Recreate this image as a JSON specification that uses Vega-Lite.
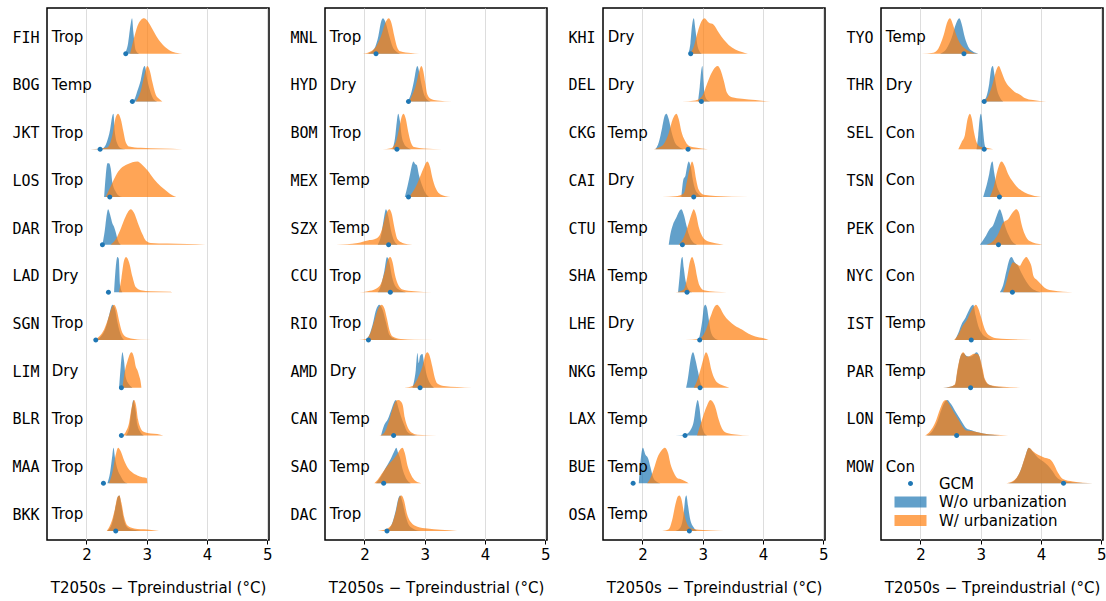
{
"$schema": "https://vega.github.io/schema/vega-lite/v6.json",
"padding": {"left": 11, "top": 7, "right": 2, "bottom": 2},
"config": {
 "font": "DejaVu Sans",
 "view": {"stroke": "black", "strokeWidth": 1.5},
 "axisX": {"labelFontSize": 15, "titleFontSize": 15, "titleFontWeight": "normal", "tickSize": 4, "tickColor": "black", "labelColor": "black", "titleColor": "black", "domain": false, "grid": true, "gridColor": "#dddddd", "labelPadding": 3, "titlePadding": 18, "labelFlush": false, "labelOverlap": false},
 "axisY": {"labelFont": "DejaVu Sans Mono", "labelFontSize": 15, "ticks": false, "domain": false, "grid": false, "labelPadding": 8, "labelColor": "black", "labelOverlap": false},
 "legend": {"orient": "none", "legendX": 856, "legendY": 468, "labelFontSize": 15, "labelColor": "black", "symbolSize": 196, "symbolStrokeWidth": 0, "labelOffset": 21, "rowPadding": 2.5, "padding": 0}
},
"datasets": {
 "cities": [
  {"c":"FIH","p":1,"r":0,"k":"Trop","g":2.652},{"c":"BOG","p":1,"r":1,"k":"Temp","g":2.762},{"c":"JKT","p":1,"r":2,"k":"Trop","g":2.227},{"c":"LOS","p":1,"r":3,"k":"Trop","g":2.387},{"c":"DAR","p":1,"r":4,"k":"Trop","g":2.265},{"c":"LAD","p":1,"r":5,"k":"Dry","g":2.365},{"c":"SGN","p":1,"r":6,"k":"Trop","g":2.155},{"c":"LIM","p":1,"r":7,"k":"Dry","g":2.580},{"c":"BLR","p":1,"r":8,"k":"Trop","g":2.580},{"c":"MAA","p":1,"r":9,"k":"Trop","g":2.282},{"c":"BKK","p":1,"r":10,"k":"Trop","g":2.486},
  {"c":"MNL","p":2,"r":0,"k":"Trop","g":2.192},{"c":"HYD","p":2,"r":1,"k":"Dry","g":2.731},{"c":"BOM","p":2,"r":2,"k":"Trop","g":2.539},{"c":"MEX","p":2,"r":3,"k":"Temp","g":2.731},{"c":"SZX","p":2,"r":4,"k":"Temp","g":2.401},{"c":"CCU","p":2,"r":5,"k":"Trop","g":2.429},{"c":"RIO","p":2,"r":6,"k":"Trop","g":2.066},{"c":"AMD","p":2,"r":7,"k":"Dry","g":2.923},{"c":"CAN","p":2,"r":8,"k":"Temp","g":2.484},{"c":"SAO","p":2,"r":9,"k":"Temp","g":2.319},{"c":"DAC","p":2,"r":10,"k":"Trop","g":2.374},
  {"c":"KHI","p":3,"r":0,"k":"Dry","g":2.801},{"c":"DEL","p":3,"r":1,"k":"Dry","g":2.978},{"c":"CKG","p":3,"r":2,"k":"Temp","g":2.757},{"c":"CAI","p":3,"r":3,"k":"Dry","g":2.851},{"c":"CTU","p":3,"r":4,"k":"Temp","g":2.663},{"c":"SHA","p":3,"r":5,"k":"Temp","g":2.740},{"c":"LHE","p":3,"r":6,"k":"Dry","g":2.950},{"c":"NKG","p":3,"r":7,"k":"Temp","g":2.956},{"c":"LAX","p":3,"r":8,"k":"Temp","g":2.707},{"c":"BUE","p":3,"r":9,"k":"Temp","g":1.845},{"c":"OSA","p":3,"r":10,"k":"Temp","g":2.779},
  {"c":"TYO","p":4,"r":0,"k":"Temp","g":2.722},{"c":"THR","p":4,"r":1,"k":"Dry","g":3.058},{"c":"SEL","p":4,"r":2,"k":"Con","g":3.058},{"c":"TSN","p":4,"r":3,"k":"Con","g":3.311},{"c":"PEK","p":4,"r":4,"k":"Con","g":3.295},{"c":"NYC","p":4,"r":5,"k":"Con","g":3.526},{"c":"IST","p":4,"r":6,"k":"Temp","g":2.843},{"c":"PAR","p":4,"r":7,"k":"Temp","g":2.832},{"c":"LON","p":4,"r":8,"k":"Temp","g":2.601},{"c":"MOW","p":4,"r":9,"k":"Con","g":4.375}
 ],
 "curves": [
  {"c":"FIH","s":"a","x":2.635,"d":0},{"c":"FIH","s":"a","x":2.691,"d":0.3},{"c":"FIH","s":"a","x":2.735,"d":0.85},{"c":"FIH","s":"a","x":2.757,"d":1},{"c":"FIH","s":"a","x":2.779,"d":0.6},{"c":"FIH","s":"a","x":2.818,"d":0.1},{"c":"FIH","s":"a","x":2.873,"d":0},
  {"c":"FIH","s":"b","x":2.724,"d":0},{"c":"FIH","s":"b","x":2.79,"d":0.45},{"c":"FIH","s":"b","x":2.845,"d":0.78},{"c":"FIH","s":"b","x":2.901,"d":0.95},{"c":"FIH","s":"b","x":2.956,"d":1},{"c":"FIH","s":"b","x":3.011,"d":0.93},{"c":"FIH","s":"b","x":3.094,"d":0.7},{"c":"FIH","s":"b","x":3.177,"d":0.45},{"c":"FIH","s":"b","x":3.287,"d":0.22},{"c":"FIH","s":"b","x":3.398,"d":0.08},{"c":"FIH","s":"b","x":3.508,"d":0.02},{"c":"FIH","s":"b","x":3.591,"d":0},
  {"c":"BOG","s":"a","x":2.707,"d":0},{"c":"BOG","s":"a","x":2.79,"d":0.05},{"c":"BOG","s":"a","x":2.845,"d":0.3},{"c":"BOG","s":"a","x":2.901,"d":0.6},{"c":"BOG","s":"a","x":2.945,"d":0.95},{"c":"BOG","s":"a","x":2.967,"d":1},{"c":"BOG","s":"a","x":3.011,"d":0.6},{"c":"BOG","s":"a","x":3.066,"d":0.25},{"c":"BOG","s":"a","x":3.122,"d":0.05},{"c":"BOG","s":"a","x":3.177,"d":0},
  {"c":"BOG","s":"b","x":2.818,"d":0},{"c":"BOG","s":"b","x":2.901,"d":0.3},{"c":"BOG","s":"b","x":2.956,"d":0.7},{"c":"BOG","s":"b","x":3.011,"d":1},{"c":"BOG","s":"b","x":3.055,"d":0.85},{"c":"BOG","s":"b","x":3.094,"d":0.55},{"c":"BOG","s":"b","x":3.149,"d":0.2},{"c":"BOG","s":"b","x":3.204,"d":0.08},{"c":"BOG","s":"b","x":3.26,"d":0},
  {"c":"JKT","s":"a","x":2.072,"d":0},{"c":"JKT","s":"a","x":2.265,"d":0.02},{"c":"JKT","s":"a","x":2.337,"d":0.2},{"c":"JKT","s":"a","x":2.392,"d":0.55},{"c":"JKT","s":"a","x":2.431,"d":0.95},{"c":"JKT","s":"a","x":2.448,"d":1},{"c":"JKT","s":"a","x":2.47,"d":0.5},{"c":"JKT","s":"a","x":2.514,"d":0.15},{"c":"JKT","s":"a","x":2.569,"d":0.03},{"c":"JKT","s":"a","x":2.652,"d":0},
  {"c":"JKT","s":"b","x":2.072,"d":0},{"c":"JKT","s":"b","x":2.348,"d":0.05},{"c":"JKT","s":"b","x":2.431,"d":0.4},{"c":"JKT","s":"b","x":2.486,"d":0.9},{"c":"JKT","s":"b","x":2.525,"d":1},{"c":"JKT","s":"b","x":2.569,"d":0.85},{"c":"JKT","s":"b","x":2.613,"d":0.5},{"c":"JKT","s":"b","x":2.652,"d":0.2},{"c":"JKT","s":"b","x":2.707,"d":0.08},{"c":"JKT","s":"b","x":2.901,"d":0.04},{"c":"JKT","s":"b","x":3.232,"d":0.02},{"c":"JKT","s":"b","x":3.591,"d":0},
  {"c":"LOS","s":"a","x":2.293,"d":0},{"c":"LOS","s":"a","x":2.32,"d":0.6},{"c":"LOS","s":"a","x":2.348,"d":0.95},{"c":"LOS","s":"a","x":2.376,"d":0.95},{"c":"LOS","s":"a","x":2.403,"d":0.8},{"c":"LOS","s":"a","x":2.431,"d":0.4},{"c":"LOS","s":"a","x":2.486,"d":0.15},{"c":"LOS","s":"a","x":2.541,"d":0.03},{"c":"LOS","s":"a","x":2.597,"d":0},
  {"c":"LOS","s":"b","x":2.32,"d":0},{"c":"LOS","s":"b","x":2.403,"d":0.3},{"c":"LOS","s":"b","x":2.486,"d":0.6},{"c":"LOS","s":"b","x":2.569,"d":0.8},{"c":"LOS","s":"b","x":2.68,"d":0.92},{"c":"LOS","s":"b","x":2.762,"d":0.98},{"c":"LOS","s":"b","x":2.845,"d":1},{"c":"LOS","s":"b","x":2.928,"d":0.9},{"c":"LOS","s":"b","x":3.011,"d":0.75},{"c":"LOS","s":"b","x":3.122,"d":0.5},{"c":"LOS","s":"b","x":3.232,"d":0.3},{"c":"LOS","s":"b","x":3.343,"d":0.15},{"c":"LOS","s":"b","x":3.425,"d":0.05},{"c":"LOS","s":"b","x":3.492,"d":0},
  {"c":"DAR","s":"a","x":2.265,"d":0},{"c":"DAR","s":"a","x":2.304,"d":0.4},{"c":"DAR","s":"a","x":2.337,"d":0.85},{"c":"DAR","s":"a","x":2.359,"d":1},{"c":"DAR","s":"a","x":2.392,"d":0.85},{"c":"DAR","s":"a","x":2.431,"d":0.6},{"c":"DAR","s":"a","x":2.459,"d":0.5},{"c":"DAR","s":"a","x":2.486,"d":0.35},{"c":"DAR","s":"a","x":2.525,"d":0.1},{"c":"DAR","s":"a","x":2.569,"d":0},
  {"c":"DAR","s":"b","x":2.403,"d":0},{"c":"DAR","s":"b","x":2.486,"d":0.15},{"c":"DAR","s":"b","x":2.569,"d":0.45},{"c":"DAR","s":"b","x":2.652,"d":0.8},{"c":"DAR","s":"b","x":2.735,"d":1},{"c":"DAR","s":"b","x":2.79,"d":0.9},{"c":"DAR","s":"b","x":2.856,"d":0.6},{"c":"DAR","s":"b","x":2.928,"d":0.3},{"c":"DAR","s":"b","x":2.983,"d":0.12},{"c":"DAR","s":"b","x":3.066,"d":0.05},{"c":"DAR","s":"b","x":3.343,"d":0.03},{"c":"DAR","s":"b","x":3.674,"d":0.02},{"c":"DAR","s":"b","x":3.978,"d":0},
  {"c":"LAD","s":"a","x":2.459,"d":0},{"c":"LAD","s":"a","x":2.486,"d":0.7},{"c":"LAD","s":"a","x":2.514,"d":1},{"c":"LAD","s":"a","x":2.536,"d":0.95},{"c":"LAD","s":"a","x":2.558,"d":0.2},{"c":"LAD","s":"a","x":2.597,"d":0},
  {"c":"LAD","s":"b","x":2.541,"d":0},{"c":"LAD","s":"b","x":2.58,"d":0.4},{"c":"LAD","s":"b","x":2.624,"d":0.9},{"c":"LAD","s":"b","x":2.657,"d":1},{"c":"LAD","s":"b","x":2.707,"d":0.85},{"c":"LAD","s":"b","x":2.762,"d":0.45},{"c":"LAD","s":"b","x":2.818,"d":0.15},{"c":"LAD","s":"b","x":2.901,"d":0.06},{"c":"LAD","s":"b","x":3.066,"d":0.03},{"c":"LAD","s":"b","x":3.398,"d":0.02},{"c":"LAD","s":"b","x":3.425,"d":0},
  {"c":"SGN","s":"a","x":2.155,"d":0},{"c":"SGN","s":"a","x":2.238,"d":0.1},{"c":"SGN","s":"a","x":2.32,"d":0.35},{"c":"SGN","s":"a","x":2.376,"d":0.7},{"c":"SGN","s":"a","x":2.431,"d":1},{"c":"SGN","s":"a","x":2.47,"d":0.9},{"c":"SGN","s":"a","x":2.514,"d":0.5},{"c":"SGN","s":"a","x":2.569,"d":0.15},{"c":"SGN","s":"a","x":2.624,"d":0},
  {"c":"SGN","s":"b","x":2.099,"d":0},{"c":"SGN","s":"b","x":2.21,"d":0.1},{"c":"SGN","s":"b","x":2.293,"d":0.3},{"c":"SGN","s":"b","x":2.359,"d":0.6},{"c":"SGN","s":"b","x":2.414,"d":0.9},{"c":"SGN","s":"b","x":2.459,"d":1},{"c":"SGN","s":"b","x":2.503,"d":0.85},{"c":"SGN","s":"b","x":2.547,"d":0.5},{"c":"SGN","s":"b","x":2.597,"d":0.2},{"c":"SGN","s":"b","x":2.68,"d":0.07},{"c":"SGN","s":"b","x":2.79,"d":0.03},{"c":"SGN","s":"b","x":2.901,"d":0.01},{"c":"SGN","s":"b","x":3.26,"d":0},
  {"c":"LIM","s":"a","x":2.541,"d":0},{"c":"LIM","s":"a","x":2.569,"d":0.6},{"c":"LIM","s":"a","x":2.597,"d":1},{"c":"LIM","s":"a","x":2.624,"d":0.75},{"c":"LIM","s":"a","x":2.652,"d":0.3},{"c":"LIM","s":"a","x":2.707,"d":0.1},{"c":"LIM","s":"a","x":2.762,"d":0},
  {"c":"LIM","s":"b","x":2.597,"d":0},{"c":"LIM","s":"b","x":2.635,"d":0.45},{"c":"LIM","s":"b","x":2.68,"d":0.75},{"c":"LIM","s":"b","x":2.746,"d":1},{"c":"LIM","s":"b","x":2.79,"d":0.85},{"c":"LIM","s":"b","x":2.818,"d":0.6},{"c":"LIM","s":"b","x":2.845,"d":0.5},{"c":"LIM","s":"b","x":2.873,"d":0.35},{"c":"LIM","s":"b","x":2.901,"d":0.15},{"c":"LIM","s":"b","x":2.912,"d":0},
  {"c":"BLR","s":"a","x":2.652,"d":0},{"c":"BLR","s":"a","x":2.707,"d":0.2},{"c":"BLR","s":"a","x":2.746,"d":0.7},{"c":"BLR","s":"a","x":2.779,"d":1},{"c":"BLR","s":"a","x":2.812,"d":0.75},{"c":"BLR","s":"a","x":2.845,"d":0.3},{"c":"BLR","s":"a","x":2.901,"d":0.08},{"c":"BLR","s":"a","x":2.956,"d":0},
  {"c":"BLR","s":"b","x":2.597,"d":0},{"c":"BLR","s":"b","x":2.652,"d":0.1},{"c":"BLR","s":"b","x":2.707,"d":0.35},{"c":"BLR","s":"b","x":2.751,"d":0.8},{"c":"BLR","s":"b","x":2.79,"d":1},{"c":"BLR","s":"b","x":2.823,"d":0.85},{"c":"BLR","s":"b","x":2.856,"d":0.45},{"c":"BLR","s":"b","x":2.901,"d":0.2},{"c":"BLR","s":"b","x":2.956,"d":0.1},{"c":"BLR","s":"b","x":3.066,"d":0.06},{"c":"BLR","s":"b","x":3.177,"d":0.04},{"c":"BLR","s":"b","x":3.276,"d":0},
  {"c":"MAA","s":"a","x":2.348,"d":0},{"c":"MAA","s":"a","x":2.392,"d":0.3},{"c":"MAA","s":"a","x":2.431,"d":0.8},{"c":"MAA","s":"a","x":2.448,"d":1},{"c":"MAA","s":"a","x":2.475,"d":0.7},{"c":"MAA","s":"a","x":2.514,"d":0.4},{"c":"MAA","s":"a","x":2.569,"d":0.2},{"c":"MAA","s":"a","x":2.624,"d":0.05},{"c":"MAA","s":"a","x":2.68,"d":0},
  {"c":"MAA","s":"b","x":2.376,"d":0},{"c":"MAA","s":"b","x":2.431,"d":0.3},{"c":"MAA","s":"b","x":2.486,"d":0.8},{"c":"MAA","s":"b","x":2.525,"d":1},{"c":"MAA","s":"b","x":2.569,"d":0.9},{"c":"MAA","s":"b","x":2.624,"d":0.65},{"c":"MAA","s":"b","x":2.68,"d":0.45},{"c":"MAA","s":"b","x":2.762,"d":0.3},{"c":"MAA","s":"b","x":2.845,"d":0.22},{"c":"MAA","s":"b","x":2.928,"d":0.17},{"c":"MAA","s":"b","x":3.0,"d":0.15},{"c":"MAA","s":"b","x":3.011,"d":0},
  {"c":"BKK","s":"a","x":2.348,"d":0},{"c":"BKK","s":"a","x":2.431,"d":0.25},{"c":"BKK","s":"a","x":2.486,"d":0.7},{"c":"BKK","s":"a","x":2.525,"d":0.98},{"c":"BKK","s":"a","x":2.547,"d":1},{"c":"BKK","s":"a","x":2.58,"d":0.7},{"c":"BKK","s":"a","x":2.624,"d":0.3},{"c":"BKK","s":"a","x":2.68,"d":0.1},{"c":"BKK","s":"a","x":2.79,"d":0.03},{"c":"BKK","s":"a","x":2.901,"d":0},
  {"c":"BKK","s":"b","x":2.337,"d":0},{"c":"BKK","s":"b","x":2.403,"d":0.2},{"c":"BKK","s":"b","x":2.47,"d":0.6},{"c":"BKK","s":"b","x":2.514,"d":0.95},{"c":"BKK","s":"b","x":2.547,"d":1},{"c":"BKK","s":"b","x":2.58,"d":0.8},{"c":"BKK","s":"b","x":2.624,"d":0.4},{"c":"BKK","s":"b","x":2.68,"d":0.15},{"c":"BKK","s":"b","x":2.79,"d":0.07},{"c":"BKK","s":"b","x":3.011,"d":0.04},{"c":"BKK","s":"b","x":3.204,"d":0},

  {"c":"MNL","s":"a","x":2.055,"d":0},{"c":"MNL","s":"a","x":2.165,"d":0.15},{"c":"MNL","s":"a","x":2.231,"d":0.5},{"c":"MNL","s":"a","x":2.275,"d":0.9},{"c":"MNL","s":"a","x":2.308,"d":1},{"c":"MNL","s":"a","x":2.357,"d":0.85},{"c":"MNL","s":"a","x":2.412,"d":0.5},{"c":"MNL","s":"a","x":2.467,"d":0.2},{"c":"MNL","s":"a","x":2.522,"d":0.07},{"c":"MNL","s":"a","x":2.604,"d":0},
  {"c":"MNL","s":"b","x":1.973,"d":0},{"c":"MNL","s":"b","x":2.082,"d":0.05},{"c":"MNL","s":"b","x":2.192,"d":0.2},{"c":"MNL","s":"b","x":2.275,"d":0.5},{"c":"MNL","s":"b","x":2.341,"d":0.85},{"c":"MNL","s":"b","x":2.401,"d":1},{"c":"MNL","s":"b","x":2.451,"d":0.85},{"c":"MNL","s":"b","x":2.495,"d":0.5},{"c":"MNL","s":"b","x":2.539,"d":0.2},{"c":"MNL","s":"b","x":2.593,"d":0.07},{"c":"MNL","s":"b","x":2.769,"d":0.02},{"c":"MNL","s":"b","x":2.907,"d":0},
  {"c":"HYD","s":"a","x":2.714,"d":0},{"c":"HYD","s":"a","x":2.769,"d":0.2},{"c":"HYD","s":"a","x":2.824,"d":0.6},{"c":"HYD","s":"a","x":2.863,"d":0.95},{"c":"HYD","s":"a","x":2.879,"d":1},{"c":"HYD","s":"a","x":2.907,"d":0.85},{"c":"HYD","s":"a","x":2.945,"d":0.5},{"c":"HYD","s":"a","x":2.989,"d":0.2},{"c":"HYD","s":"a","x":3.044,"d":0.05},{"c":"HYD","s":"a","x":3.099,"d":0},
  {"c":"HYD","s":"b","x":2.742,"d":0},{"c":"HYD","s":"b","x":2.797,"d":0.2},{"c":"HYD","s":"b","x":2.852,"d":0.45},{"c":"HYD","s":"b","x":2.907,"d":0.85},{"c":"HYD","s":"b","x":2.945,"d":1},{"c":"HYD","s":"b","x":2.978,"d":0.85},{"c":"HYD","s":"b","x":3.011,"d":0.5},{"c":"HYD","s":"b","x":3.044,"d":0.2},{"c":"HYD","s":"b","x":3.099,"d":0.08},{"c":"HYD","s":"b","x":3.209,"d":0.03},{"c":"HYD","s":"b","x":3.456,"d":0},
  {"c":"BOM","s":"a","x":2.467,"d":0},{"c":"BOM","s":"a","x":2.506,"d":0.3},{"c":"BOM","s":"a","x":2.539,"d":0.8},{"c":"BOM","s":"a","x":2.56,"d":1},{"c":"BOM","s":"a","x":2.588,"d":0.8},{"c":"BOM","s":"a","x":2.615,"d":0.4},{"c":"BOM","s":"a","x":2.659,"d":0.15},{"c":"BOM","s":"a","x":2.714,"d":0.05},{"c":"BOM","s":"a","x":2.769,"d":0},
  {"c":"BOM","s":"b","x":2.302,"d":0},{"c":"BOM","s":"b","x":2.44,"d":0.03},{"c":"BOM","s":"b","x":2.522,"d":0.2},{"c":"BOM","s":"b","x":2.577,"d":0.6},{"c":"BOM","s":"b","x":2.615,"d":0.9},{"c":"BOM","s":"b","x":2.648,"d":1},{"c":"BOM","s":"b","x":2.687,"d":0.85},{"c":"BOM","s":"b","x":2.725,"d":0.5},{"c":"BOM","s":"b","x":2.769,"d":0.2},{"c":"BOM","s":"b","x":2.824,"d":0.06},{"c":"BOM","s":"b","x":2.989,"d":0.02},{"c":"BOM","s":"b","x":3.291,"d":0},
  {"c":"MEX","s":"a","x":2.67,"d":0},{"c":"MEX","s":"a","x":2.714,"d":0.3},{"c":"MEX","s":"a","x":2.758,"d":0.65},{"c":"MEX","s":"a","x":2.797,"d":0.95},{"c":"MEX","s":"a","x":2.813,"d":1},{"c":"MEX","s":"a","x":2.841,"d":0.93},{"c":"MEX","s":"a","x":2.868,"d":0.9},{"c":"MEX","s":"a","x":2.907,"d":0.6},{"c":"MEX","s":"a","x":2.962,"d":0.3},{"c":"MEX","s":"a","x":3.017,"d":0.1},{"c":"MEX","s":"a","x":3.072,"d":0},
  {"c":"MEX","s":"b","x":2.742,"d":0},{"c":"MEX","s":"b","x":2.824,"d":0.2},{"c":"MEX","s":"b","x":2.907,"d":0.5},{"c":"MEX","s":"b","x":2.978,"d":0.8},{"c":"MEX","s":"b","x":3.044,"d":1},{"c":"MEX","s":"b","x":3.088,"d":0.85},{"c":"MEX","s":"b","x":3.126,"d":0.55},{"c":"MEX","s":"b","x":3.181,"d":0.25},{"c":"MEX","s":"b","x":3.264,"d":0.07},{"c":"MEX","s":"b","x":3.429,"d":0},
  {"c":"SZX","s":"a","x":2.22,"d":0},{"c":"SZX","s":"a","x":2.275,"d":0.25},{"c":"SZX","s":"a","x":2.319,"d":0.7},{"c":"SZX","s":"a","x":2.357,"d":1},{"c":"SZX","s":"a","x":2.396,"d":0.8},{"c":"SZX","s":"a","x":2.44,"d":0.4},{"c":"SZX","s":"a","x":2.495,"d":0.1},{"c":"SZX","s":"a","x":2.55,"d":0},
  {"c":"SZX","s":"b","x":1.533,"d":0},{"c":"SZX","s":"b","x":1.89,"d":0.05},{"c":"SZX","s":"b","x":2.055,"d":0.12},{"c":"SZX","s":"b","x":2.165,"d":0.15},{"c":"SZX","s":"b","x":2.247,"d":0.25},{"c":"SZX","s":"b","x":2.302,"d":0.5},{"c":"SZX","s":"b","x":2.357,"d":0.85},{"c":"SZX","s":"b","x":2.412,"d":1},{"c":"SZX","s":"b","x":2.456,"d":0.85},{"c":"SZX","s":"b","x":2.495,"d":0.5},{"c":"SZX","s":"b","x":2.55,"d":0.15},{"c":"SZX","s":"b","x":2.632,"d":0.05},{"c":"SZX","s":"b","x":2.797,"d":0},
  {"c":"CCU","s":"a","x":2.22,"d":0},{"c":"CCU","s":"a","x":2.275,"d":0.2},{"c":"CCU","s":"a","x":2.33,"d":0.6},{"c":"CCU","s":"a","x":2.374,"d":1},{"c":"CCU","s":"a","x":2.412,"d":0.85},{"c":"CCU","s":"a","x":2.456,"d":0.45},{"c":"CCU","s":"a","x":2.522,"d":0.15},{"c":"CCU","s":"a","x":2.604,"d":0.05},{"c":"CCU","s":"a","x":2.687,"d":0},
  {"c":"CCU","s":"b","x":1.918,"d":0},{"c":"CCU","s":"b","x":2.055,"d":0.03},{"c":"CCU","s":"b","x":2.192,"d":0.1},{"c":"CCU","s":"b","x":2.275,"d":0.25},{"c":"CCU","s":"b","x":2.341,"d":0.6},{"c":"CCU","s":"b","x":2.396,"d":0.95},{"c":"CCU","s":"b","x":2.429,"d":1},{"c":"CCU","s":"b","x":2.467,"d":0.85},{"c":"CCU","s":"b","x":2.506,"d":0.5},{"c":"CCU","s":"b","x":2.55,"d":0.25},{"c":"CCU","s":"b","x":2.632,"d":0.08},{"c":"CCU","s":"b","x":2.824,"d":0.03},{"c":"CCU","s":"b","x":3.126,"d":0},
  {"c":"RIO","s":"a","x":2.027,"d":0},{"c":"RIO","s":"a","x":2.082,"d":0.15},{"c":"RIO","s":"a","x":2.137,"d":0.45},{"c":"RIO","s":"a","x":2.192,"d":0.85},{"c":"RIO","s":"a","x":2.247,"d":1},{"c":"RIO","s":"a","x":2.302,"d":0.85},{"c":"RIO","s":"a","x":2.357,"d":0.5},{"c":"RIO","s":"a","x":2.412,"d":0.15},{"c":"RIO","s":"a","x":2.495,"d":0.04},{"c":"RIO","s":"a","x":2.604,"d":0},
  {"c":"RIO","s":"b","x":1.901,"d":0},{"c":"RIO","s":"b","x":2.027,"d":0.03},{"c":"RIO","s":"b","x":2.099,"d":0.2},{"c":"RIO","s":"b","x":2.165,"d":0.55},{"c":"RIO","s":"b","x":2.231,"d":0.9},{"c":"RIO","s":"b","x":2.286,"d":1},{"c":"RIO","s":"b","x":2.33,"d":0.9},{"c":"RIO","s":"b","x":2.374,"d":0.6},{"c":"RIO","s":"b","x":2.412,"d":0.3},{"c":"RIO","s":"b","x":2.467,"d":0.1},{"c":"RIO","s":"b","x":2.604,"d":0.03},{"c":"RIO","s":"b","x":2.824,"d":0.01},{"c":"RIO","s":"b","x":3.484,"d":0},
  {"c":"AMD","s":"a","x":2.797,"d":0},{"c":"AMD","s":"a","x":2.852,"d":0.5},{"c":"AMD","s":"a","x":2.879,"d":0.98},{"c":"AMD","s":"a","x":2.901,"d":0.7},{"c":"AMD","s":"a","x":2.923,"d":0.9},{"c":"AMD","s":"a","x":2.962,"d":0.95},{"c":"AMD","s":"a","x":2.989,"d":0.7},{"c":"AMD","s":"a","x":3.044,"d":0.3},{"c":"AMD","s":"a","x":3.099,"d":0.1},{"c":"AMD","s":"a","x":3.154,"d":0},
  {"c":"AMD","s":"b","x":2.659,"d":0},{"c":"AMD","s":"b","x":2.797,"d":0.05},{"c":"AMD","s":"b","x":2.879,"d":0.25},{"c":"AMD","s":"b","x":2.962,"d":0.6},{"c":"AMD","s":"b","x":3.017,"d":0.95},{"c":"AMD","s":"b","x":3.044,"d":1},{"c":"AMD","s":"b","x":3.083,"d":0.9},{"c":"AMD","s":"b","x":3.126,"d":0.6},{"c":"AMD","s":"b","x":3.165,"d":0.3},{"c":"AMD","s":"b","x":3.209,"d":0.12},{"c":"AMD","s":"b","x":3.319,"d":0.05},{"c":"AMD","s":"b","x":3.539,"d":0.02},{"c":"AMD","s":"b","x":3.786,"d":0},
  {"c":"CAN","s":"a","x":2.275,"d":0},{"c":"CAN","s":"a","x":2.33,"d":0.3},{"c":"CAN","s":"a","x":2.385,"d":0.45},{"c":"CAN","s":"a","x":2.451,"d":0.75},{"c":"CAN","s":"a","x":2.495,"d":0.95},{"c":"CAN","s":"a","x":2.522,"d":1},{"c":"CAN","s":"a","x":2.56,"d":0.8},{"c":"CAN","s":"a","x":2.604,"d":0.55},{"c":"CAN","s":"a","x":2.659,"d":0.3},{"c":"CAN","s":"a","x":2.714,"d":0.1},{"c":"CAN","s":"a","x":2.797,"d":0.03},{"c":"CAN","s":"a","x":2.879,"d":0},
  {"c":"CAN","s":"b","x":2.247,"d":0},{"c":"CAN","s":"b","x":2.33,"d":0.08},{"c":"CAN","s":"b","x":2.396,"d":0.35},{"c":"CAN","s":"b","x":2.467,"d":0.75},{"c":"CAN","s":"b","x":2.522,"d":0.97},{"c":"CAN","s":"b","x":2.56,"d":1},{"c":"CAN","s":"b","x":2.604,"d":0.96},{"c":"CAN","s":"b","x":2.637,"d":0.85},{"c":"CAN","s":"b","x":2.67,"d":0.5},{"c":"CAN","s":"b","x":2.714,"d":0.25},{"c":"CAN","s":"b","x":2.797,"d":0.07},{"c":"CAN","s":"b","x":2.879,"d":0.02},{"c":"CAN","s":"b","x":3.198,"d":0},
  {"c":"SAO","s":"a","x":2.192,"d":0},{"c":"SAO","s":"a","x":2.275,"d":0.2},{"c":"SAO","s":"a","x":2.357,"d":0.45},{"c":"SAO","s":"a","x":2.44,"d":0.7},{"c":"SAO","s":"a","x":2.495,"d":0.9},{"c":"SAO","s":"a","x":2.528,"d":1},{"c":"SAO","s":"a","x":2.56,"d":0.85},{"c":"SAO","s":"a","x":2.593,"d":0.7},{"c":"SAO","s":"a","x":2.632,"d":0.4},{"c":"SAO","s":"a","x":2.687,"d":0.15},{"c":"SAO","s":"a","x":2.769,"d":0},
  {"c":"SAO","s":"b","x":2.165,"d":0},{"c":"SAO","s":"b","x":2.22,"d":0.1},{"c":"SAO","s":"b","x":2.302,"d":0.3},{"c":"SAO","s":"b","x":2.385,"d":0.5},{"c":"SAO","s":"b","x":2.467,"d":0.65},{"c":"SAO","s":"b","x":2.539,"d":0.8},{"c":"SAO","s":"b","x":2.593,"d":0.95},{"c":"SAO","s":"b","x":2.632,"d":1},{"c":"SAO","s":"b","x":2.67,"d":0.85},{"c":"SAO","s":"b","x":2.714,"d":0.5},{"c":"SAO","s":"b","x":2.769,"d":0.25},{"c":"SAO","s":"b","x":2.824,"d":0.1},{"c":"SAO","s":"b","x":2.945,"d":0},
  {"c":"DAC","s":"a","x":2.385,"d":0},{"c":"DAC","s":"a","x":2.467,"d":0.25},{"c":"DAC","s":"a","x":2.522,"d":0.6},{"c":"DAC","s":"a","x":2.56,"d":0.9},{"c":"DAC","s":"a","x":2.593,"d":1},{"c":"DAC","s":"a","x":2.632,"d":0.8},{"c":"DAC","s":"a","x":2.687,"d":0.4},{"c":"DAC","s":"a","x":2.742,"d":0.15},{"c":"DAC","s":"a","x":2.824,"d":0.05},{"c":"DAC","s":"a","x":2.934,"d":0},
  {"c":"DAC","s":"b","x":2.22,"d":0},{"c":"DAC","s":"b","x":2.33,"d":0.03},{"c":"DAC","s":"b","x":2.44,"d":0.15},{"c":"DAC","s":"b","x":2.522,"d":0.55},{"c":"DAC","s":"b","x":2.577,"d":0.95},{"c":"DAC","s":"b","x":2.615,"d":1},{"c":"DAC","s":"b","x":2.659,"d":0.85},{"c":"DAC","s":"b","x":2.703,"d":0.5},{"c":"DAC","s":"b","x":2.769,"d":0.25},{"c":"DAC","s":"b","x":2.879,"d":0.12},{"c":"DAC","s":"b","x":3.044,"d":0.07},{"c":"DAC","s":"b","x":3.264,"d":0.03},{"c":"DAC","s":"b","x":3.539,"d":0},

  {"c":"KHI","s":"a","x":2.757,"d":0},{"c":"KHI","s":"a","x":2.796,"d":0.3},{"c":"KHI","s":"a","x":2.823,"d":0.8},{"c":"KHI","s":"a","x":2.851,"d":1},{"c":"KHI","s":"a","x":2.878,"d":0.7},{"c":"KHI","s":"a","x":2.906,"d":0.3},{"c":"KHI","s":"a","x":2.945,"d":0.08},{"c":"KHI","s":"a","x":2.989,"d":0},
  {"c":"KHI","s":"b","x":2.768,"d":0},{"c":"KHI","s":"b","x":2.851,"d":0.2},{"c":"KHI","s":"b","x":2.906,"d":0.55},{"c":"KHI","s":"b","x":2.961,"d":0.85},{"c":"KHI","s":"b","x":3.028,"d":1},{"c":"KHI","s":"b","x":3.099,"d":0.88},{"c":"KHI","s":"b","x":3.182,"d":0.82},{"c":"KHI","s":"b","x":3.265,"d":0.6},{"c":"KHI","s":"b","x":3.348,"d":0.4},{"c":"KHI","s":"b","x":3.431,"d":0.25},{"c":"KHI","s":"b","x":3.541,"d":0.12},{"c":"KHI","s":"b","x":3.652,"d":0.05},{"c":"KHI","s":"b","x":3.751,"d":0},
  {"c":"DEL","s":"a","x":2.923,"d":0},{"c":"DEL","s":"a","x":2.95,"d":0.4},{"c":"DEL","s":"a","x":2.978,"d":0.9},{"c":"DEL","s":"a","x":2.994,"d":1},{"c":"DEL","s":"a","x":3.011,"d":0.6},{"c":"DEL","s":"a","x":3.033,"d":0.2},{"c":"DEL","s":"a","x":3.072,"d":0.05},{"c":"DEL","s":"a","x":3.127,"d":0},
  {"c":"DEL","s":"b","x":2.657,"d":0},{"c":"DEL","s":"b","x":2.878,"d":0.03},{"c":"DEL","s":"b","x":2.989,"d":0.15},{"c":"DEL","s":"b","x":3.072,"d":0.5},{"c":"DEL","s":"b","x":3.144,"d":0.8},{"c":"DEL","s":"b","x":3.21,"d":0.97},{"c":"DEL","s":"b","x":3.249,"d":1},{"c":"DEL","s":"b","x":3.293,"d":0.9},{"c":"DEL","s":"b","x":3.348,"d":0.6},{"c":"DEL","s":"b","x":3.403,"d":0.25},{"c":"DEL","s":"b","x":3.486,"d":0.12},{"c":"DEL","s":"b","x":3.652,"d":0.08},{"c":"DEL","s":"b","x":3.873,"d":0.04},{"c":"DEL","s":"b","x":4.122,"d":0},
  {"c":"CKG","s":"a","x":2.215,"d":0},{"c":"CKG","s":"a","x":2.271,"d":0.2},{"c":"CKG","s":"a","x":2.326,"d":0.6},{"c":"CKG","s":"a","x":2.37,"d":0.95},{"c":"CKG","s":"a","x":2.398,"d":1},{"c":"CKG","s":"a","x":2.436,"d":0.85},{"c":"CKG","s":"a","x":2.481,"d":0.5},{"c":"CKG","s":"a","x":2.536,"d":0.2},{"c":"CKG","s":"a","x":2.602,"d":0.07},{"c":"CKG","s":"a","x":2.685,"d":0},
  {"c":"CKG","s":"b","x":2.188,"d":0},{"c":"CKG","s":"b","x":2.271,"d":0.05},{"c":"CKG","s":"b","x":2.354,"d":0.15},{"c":"CKG","s":"b","x":2.436,"d":0.45},{"c":"CKG","s":"b","x":2.503,"d":0.85},{"c":"CKG","s":"b","x":2.564,"d":1},{"c":"CKG","s":"b","x":2.602,"d":0.85},{"c":"CKG","s":"b","x":2.646,"d":0.5},{"c":"CKG","s":"b","x":2.702,"d":0.25},{"c":"CKG","s":"b","x":2.768,"d":0.1},{"c":"CKG","s":"b","x":2.878,"d":0.05},{"c":"CKG","s":"b","x":3.088,"d":0},
  {"c":"CAI","s":"a","x":2.646,"d":0},{"c":"CAI","s":"a","x":2.68,"d":0.5},{"c":"CAI","s":"a","x":2.713,"d":0.6},{"c":"CAI","s":"a","x":2.746,"d":0.9},{"c":"CAI","s":"a","x":2.768,"d":1},{"c":"CAI","s":"a","x":2.801,"d":0.85},{"c":"CAI","s":"a","x":2.834,"d":0.5},{"c":"CAI","s":"a","x":2.878,"d":0.2},{"c":"CAI","s":"a","x":2.934,"d":0.07},{"c":"CAI","s":"a","x":3.017,"d":0},
  {"c":"CAI","s":"b","x":2.326,"d":0},{"c":"CAI","s":"b","x":2.547,"d":0.02},{"c":"CAI","s":"b","x":2.685,"d":0.1},{"c":"CAI","s":"b","x":2.74,"d":0.45},{"c":"CAI","s":"b","x":2.785,"d":0.8},{"c":"CAI","s":"b","x":2.823,"d":1},{"c":"CAI","s":"b","x":2.856,"d":0.85},{"c":"CAI","s":"b","x":2.89,"d":0.5},{"c":"CAI","s":"b","x":2.934,"d":0.2},{"c":"CAI","s":"b","x":3.017,"d":0.06},{"c":"CAI","s":"b","x":3.21,"d":0.03},{"c":"CAI","s":"b","x":3.762,"d":0},
  {"c":"CTU","s":"a","x":2.436,"d":0},{"c":"CTU","s":"a","x":2.464,"d":0.3},{"c":"CTU","s":"a","x":2.503,"d":0.55},{"c":"CTU","s":"a","x":2.558,"d":0.75},{"c":"CTU","s":"a","x":2.613,"d":0.95},{"c":"CTU","s":"a","x":2.646,"d":1},{"c":"CTU","s":"a","x":2.685,"d":0.85},{"c":"CTU","s":"a","x":2.729,"d":0.55},{"c":"CTU","s":"a","x":2.768,"d":0.3},{"c":"CTU","s":"a","x":2.823,"d":0.1},{"c":"CTU","s":"a","x":2.906,"d":0},
  {"c":"CTU","s":"b","x":2.602,"d":0},{"c":"CTU","s":"b","x":2.685,"d":0.2},{"c":"CTU","s":"b","x":2.757,"d":0.55},{"c":"CTU","s":"b","x":2.812,"d":0.85},{"c":"CTU","s":"b","x":2.851,"d":1},{"c":"CTU","s":"b","x":2.89,"d":0.85},{"c":"CTU","s":"b","x":2.934,"d":0.5},{"c":"CTU","s":"b","x":2.989,"d":0.25},{"c":"CTU","s":"b","x":3.072,"d":0.1},{"c":"CTU","s":"b","x":3.21,"d":0.04},{"c":"CTU","s":"b","x":3.348,"d":0},
  {"c":"SHA","s":"a","x":2.591,"d":0},{"c":"SHA","s":"a","x":2.619,"d":0.5},{"c":"SHA","s":"a","x":2.646,"d":0.95},{"c":"SHA","s":"a","x":2.663,"d":1},{"c":"SHA","s":"a","x":2.685,"d":0.7},{"c":"SHA","s":"a","x":2.713,"d":0.35},{"c":"SHA","s":"a","x":2.757,"d":0.1},{"c":"SHA","s":"a","x":2.823,"d":0},
  {"c":"SHA","s":"b","x":2.547,"d":0},{"c":"SHA","s":"b","x":2.685,"d":0.08},{"c":"SHA","s":"b","x":2.74,"d":0.4},{"c":"SHA","s":"b","x":2.785,"d":0.85},{"c":"SHA","s":"b","x":2.823,"d":1},{"c":"SHA","s":"b","x":2.867,"d":0.8},{"c":"SHA","s":"b","x":2.906,"d":0.45},{"c":"SHA","s":"b","x":2.945,"d":0.2},{"c":"SHA","s":"b","x":3.017,"d":0.06},{"c":"SHA","s":"b","x":3.21,"d":0.02},{"c":"SHA","s":"b","x":3.597,"d":0},
  {"c":"LHE","s":"a","x":2.934,"d":0},{"c":"LHE","s":"a","x":2.989,"d":0.5},{"c":"LHE","s":"a","x":3.022,"d":0.95},{"c":"LHE","s":"a","x":3.044,"d":1},{"c":"LHE","s":"a","x":3.072,"d":0.9},{"c":"LHE","s":"a","x":3.099,"d":0.6},{"c":"LHE","s":"a","x":3.133,"d":0.25},{"c":"LHE","s":"a","x":3.182,"d":0.08},{"c":"LHE","s":"a","x":3.265,"d":0},
  {"c":"LHE","s":"b","x":2.713,"d":0},{"c":"LHE","s":"b","x":2.934,"d":0.03},{"c":"LHE","s":"b","x":3.044,"d":0.25},{"c":"LHE","s":"b","x":3.127,"d":0.65},{"c":"LHE","s":"b","x":3.199,"d":0.95},{"c":"LHE","s":"b","x":3.238,"d":1},{"c":"LHE","s":"b","x":3.293,"d":0.9},{"c":"LHE","s":"b","x":3.348,"d":0.72},{"c":"LHE","s":"b","x":3.431,"d":0.55},{"c":"LHE","s":"b","x":3.541,"d":0.4},{"c":"LHE","s":"b","x":3.652,"d":0.3},{"c":"LHE","s":"b","x":3.762,"d":0.18},{"c":"LHE","s":"b","x":3.873,"d":0.1},{"c":"LHE","s":"b","x":4.011,"d":0.05},{"c":"LHE","s":"b","x":4.094,"d":0},
  {"c":"NKG","s":"a","x":2.724,"d":0},{"c":"NKG","s":"a","x":2.757,"d":0.3},{"c":"NKG","s":"a","x":2.79,"d":0.7},{"c":"NKG","s":"a","x":2.823,"d":0.97},{"c":"NKG","s":"a","x":2.84,"d":1},{"c":"NKG","s":"a","x":2.878,"d":0.8},{"c":"NKG","s":"a","x":2.923,"d":0.45},{"c":"NKG","s":"a","x":2.961,"d":0.15},{"c":"NKG","s":"a","x":3.017,"d":0},
  {"c":"NKG","s":"b","x":2.851,"d":0},{"c":"NKG","s":"b","x":2.906,"d":0.2},{"c":"NKG","s":"b","x":2.961,"d":0.5},{"c":"NKG","s":"b","x":3.017,"d":0.85},{"c":"NKG","s":"b","x":3.055,"d":1},{"c":"NKG","s":"b","x":3.099,"d":0.85},{"c":"NKG","s":"b","x":3.144,"d":0.5},{"c":"NKG","s":"b","x":3.199,"d":0.25},{"c":"NKG","s":"b","x":3.265,"d":0.12},{"c":"NKG","s":"b","x":3.348,"d":0.06},{"c":"NKG","s":"b","x":3.442,"d":0},
  {"c":"LAX","s":"a","x":2.547,"d":0},{"c":"LAX","s":"a","x":2.713,"d":0.03},{"c":"LAX","s":"a","x":2.796,"d":0.15},{"c":"LAX","s":"a","x":2.851,"d":0.4},{"c":"LAX","s":"a","x":2.89,"d":0.85},{"c":"LAX","s":"a","x":2.917,"d":1},{"c":"LAX","s":"a","x":2.945,"d":0.8},{"c":"LAX","s":"a","x":2.978,"d":0.35},{"c":"LAX","s":"a","x":3.017,"d":0.1},{"c":"LAX","s":"a","x":3.072,"d":0},
  {"c":"LAX","s":"b","x":2.906,"d":0},{"c":"LAX","s":"b","x":2.961,"d":0.3},{"c":"LAX","s":"b","x":3.017,"d":0.6},{"c":"LAX","s":"b","x":3.072,"d":0.85},{"c":"LAX","s":"b","x":3.127,"d":1},{"c":"LAX","s":"b","x":3.166,"d":0.95},{"c":"LAX","s":"b","x":3.21,"d":0.8},{"c":"LAX","s":"b","x":3.265,"d":0.45},{"c":"LAX","s":"b","x":3.32,"d":0.2},{"c":"LAX","s":"b","x":3.403,"d":0.07},{"c":"LAX","s":"b","x":3.541,"d":0.03},{"c":"LAX","s":"b","x":3.79,"d":0},
  {"c":"BUE","s":"a","x":1.939,"d":0},{"c":"BUE","s":"a","x":1.967,"d":0.6},{"c":"BUE","s":"a","x":2.006,"d":1},{"c":"BUE","s":"a","x":2.05,"d":0.8},{"c":"BUE","s":"a","x":2.094,"d":0.7},{"c":"BUE","s":"a","x":2.133,"d":0.45},{"c":"BUE","s":"a","x":2.171,"d":0.2},{"c":"BUE","s":"a","x":2.215,"d":0.07},{"c":"BUE","s":"a","x":2.298,"d":0},
  {"c":"BUE","s":"b","x":2.077,"d":0},{"c":"BUE","s":"b","x":2.133,"d":0.15},{"c":"BUE","s":"b","x":2.188,"d":0.4},{"c":"BUE","s":"b","x":2.243,"d":0.7},{"c":"BUE","s":"b","x":2.315,"d":0.92},{"c":"BUE","s":"b","x":2.37,"d":1},{"c":"BUE","s":"b","x":2.425,"d":0.85},{"c":"BUE","s":"b","x":2.464,"d":0.55},{"c":"BUE","s":"b","x":2.519,"d":0.3},{"c":"BUE","s":"b","x":2.575,"d":0.15},{"c":"BUE","s":"b","x":2.63,"d":0.12},{"c":"BUE","s":"b","x":2.685,"d":0.08},{"c":"BUE","s":"b","x":2.768,"d":0},
  {"c":"OSA","s":"a","x":2.547,"d":0},{"c":"OSA","s":"a","x":2.63,"d":0.1},{"c":"OSA","s":"a","x":2.685,"d":0.5},{"c":"OSA","s":"a","x":2.713,"d":0.95},{"c":"OSA","s":"a","x":2.729,"d":1},{"c":"OSA","s":"a","x":2.757,"d":0.7},{"c":"OSA","s":"a","x":2.796,"d":0.3},{"c":"OSA","s":"a","x":2.851,"d":0.1},{"c":"OSA","s":"a","x":2.906,"d":0},
  {"c":"OSA","s":"b","x":2.326,"d":0},{"c":"OSA","s":"b","x":2.436,"d":0.05},{"c":"OSA","s":"b","x":2.492,"d":0.3},{"c":"OSA","s":"b","x":2.547,"d":0.75},{"c":"OSA","s":"b","x":2.586,"d":0.97},{"c":"OSA","s":"b","x":2.613,"d":1},{"c":"OSA","s":"b","x":2.646,"d":0.9},{"c":"OSA","s":"b","x":2.685,"d":0.55},{"c":"OSA","s":"b","x":2.729,"d":0.25},{"c":"OSA","s":"b","x":2.796,"d":0.08},{"c":"OSA","s":"b","x":2.934,"d":0.03},{"c":"OSA","s":"b","x":3.348,"d":0},

  {"c":"TYO","s":"a","x":2.325,"d":0},{"c":"TYO","s":"a","x":2.435,"d":0.15},{"c":"TYO","s":"a","x":2.518,"d":0.45},{"c":"TYO","s":"a","x":2.59,"d":0.85},{"c":"TYO","s":"a","x":2.645,"d":1},{"c":"TYO","s":"a","x":2.683,"d":0.85},{"c":"TYO","s":"a","x":2.738,"d":0.45},{"c":"TYO","s":"a","x":2.793,"d":0.2},{"c":"TYO","s":"a","x":2.865,"d":0.07},{"c":"TYO","s":"a","x":2.959,"d":0},
  {"c":"TYO","s":"b","x":2.022,"d":0},{"c":"TYO","s":"b","x":2.215,"d":0.03},{"c":"TYO","s":"b","x":2.298,"d":0.15},{"c":"TYO","s":"b","x":2.38,"d":0.5},{"c":"TYO","s":"b","x":2.446,"d":0.9},{"c":"TYO","s":"b","x":2.49,"d":1},{"c":"TYO","s":"b","x":2.534,"d":0.85},{"c":"TYO","s":"b","x":2.59,"d":0.55},{"c":"TYO","s":"b","x":2.656,"d":0.3},{"c":"TYO","s":"b","x":2.738,"d":0.15},{"c":"TYO","s":"b","x":2.821,"d":0.06},{"c":"TYO","s":"b","x":2.959,"d":0},
  {"c":"THR","s":"a","x":3.014,"d":0},{"c":"THR","s":"a","x":3.085,"d":0.1},{"c":"THR","s":"a","x":3.141,"d":0.5},{"c":"THR","s":"a","x":3.179,"d":0.95},{"c":"THR","s":"a","x":3.201,"d":1},{"c":"THR","s":"a","x":3.229,"d":0.75},{"c":"THR","s":"a","x":3.262,"d":0.4},{"c":"THR","s":"a","x":3.317,"d":0.12},{"c":"THR","s":"a","x":3.372,"d":0},
  {"c":"THR","s":"b","x":3.041,"d":0},{"c":"THR","s":"b","x":3.124,"d":0.15},{"c":"THR","s":"b","x":3.207,"d":0.55},{"c":"THR","s":"b","x":3.262,"d":0.9},{"c":"THR","s":"b","x":3.3,"d":1},{"c":"THR","s":"b","x":3.344,"d":0.85},{"c":"THR","s":"b","x":3.4,"d":0.6},{"c":"THR","s":"b","x":3.482,"d":0.4},{"c":"THR","s":"b","x":3.565,"d":0.27},{"c":"THR","s":"b","x":3.647,"d":0.2},{"c":"THR","s":"b","x":3.73,"d":0.1},{"c":"THR","s":"b","x":3.868,"d":0.04},{"c":"THR","s":"b","x":4.088,"d":0},
  {"c":"SEL","s":"a","x":2.931,"d":0},{"c":"SEL","s":"a","x":2.959,"d":0.4},{"c":"SEL","s":"a","x":2.986,"d":0.9},{"c":"SEL","s":"a","x":3.003,"d":1},{"c":"SEL","s":"a","x":3.025,"d":0.8},{"c":"SEL","s":"a","x":3.041,"d":0.5},{"c":"SEL","s":"a","x":3.063,"d":0.15},{"c":"SEL","s":"a","x":3.096,"d":0},
  {"c":"SEL","s":"b","x":2.628,"d":0},{"c":"SEL","s":"b","x":2.683,"d":0.2},{"c":"SEL","s":"b","x":2.738,"d":0.4},{"c":"SEL","s":"b","x":2.782,"d":0.85},{"c":"SEL","s":"b","x":2.821,"d":1},{"c":"SEL","s":"b","x":2.854,"d":0.85},{"c":"SEL","s":"b","x":2.887,"d":0.5},{"c":"SEL","s":"b","x":2.931,"d":0.2},{"c":"SEL","s":"b","x":2.986,"d":0.08},{"c":"SEL","s":"b","x":3.096,"d":0.04},{"c":"SEL","s":"b","x":3.207,"d":0},
  {"c":"TSN","s":"a","x":3.041,"d":0},{"c":"TSN","s":"a","x":3.085,"d":0.25},{"c":"TSN","s":"a","x":3.141,"d":0.65},{"c":"TSN","s":"a","x":3.179,"d":0.97},{"c":"TSN","s":"a","x":3.196,"d":1},{"c":"TSN","s":"a","x":3.223,"d":0.7},{"c":"TSN","s":"a","x":3.262,"d":0.35},{"c":"TSN","s":"a","x":3.317,"d":0.12},{"c":"TSN","s":"a","x":3.372,"d":0},
  {"c":"TSN","s":"b","x":3.152,"d":0},{"c":"TSN","s":"b","x":3.218,"d":0.3},{"c":"TSN","s":"b","x":3.279,"d":0.75},{"c":"TSN","s":"b","x":3.344,"d":1},{"c":"TSN","s":"b","x":3.4,"d":0.88},{"c":"TSN","s":"b","x":3.455,"d":0.65},{"c":"TSN","s":"b","x":3.526,"d":0.45},{"c":"TSN","s":"b","x":3.592,"d":0.3},{"c":"TSN","s":"b","x":3.675,"d":0.18},{"c":"TSN","s":"b","x":3.785,"d":0.08},{"c":"TSN","s":"b","x":3.895,"d":0.03},{"c":"TSN","s":"b","x":4.006,"d":0},
  {"c":"PEK","s":"a","x":2.986,"d":0},{"c":"PEK","s":"a","x":3.069,"d":0.2},{"c":"PEK","s":"a","x":3.152,"d":0.45},{"c":"PEK","s":"a","x":3.207,"d":0.55},{"c":"PEK","s":"a","x":3.262,"d":0.8},{"c":"PEK","s":"a","x":3.317,"d":1},{"c":"PEK","s":"a","x":3.355,"d":0.85},{"c":"PEK","s":"a","x":3.4,"d":0.55},{"c":"PEK","s":"a","x":3.455,"d":0.3},{"c":"PEK","s":"a","x":3.51,"d":0.12},{"c":"PEK","s":"a","x":3.592,"d":0},
  {"c":"PEK","s":"b","x":3.096,"d":0},{"c":"PEK","s":"b","x":3.207,"d":0.1},{"c":"PEK","s":"b","x":3.289,"d":0.3},{"c":"PEK","s":"b","x":3.372,"d":0.62},{"c":"PEK","s":"b","x":3.455,"d":0.72},{"c":"PEK","s":"b","x":3.526,"d":0.9},{"c":"PEK","s":"b","x":3.592,"d":1},{"c":"PEK","s":"b","x":3.636,"d":0.9},{"c":"PEK","s":"b","x":3.675,"d":0.6},{"c":"PEK","s":"b","x":3.73,"d":0.3},{"c":"PEK","s":"b","x":3.813,"d":0.1},{"c":"PEK","s":"b","x":4.022,"d":0},
  {"c":"NYC","s":"a","x":3.317,"d":0},{"c":"NYC","s":"a","x":3.372,"d":0.2},{"c":"NYC","s":"a","x":3.427,"d":0.6},{"c":"NYC","s":"a","x":3.482,"d":0.95},{"c":"NYC","s":"a","x":3.51,"d":1},{"c":"NYC","s":"a","x":3.565,"d":0.85},{"c":"NYC","s":"a","x":3.62,"d":0.75},{"c":"NYC","s":"a","x":3.675,"d":0.55},{"c":"NYC","s":"a","x":3.758,"d":0.3},{"c":"NYC","s":"a","x":3.84,"d":0.12},{"c":"NYC","s":"a","x":3.923,"d":0.04},{"c":"NYC","s":"a","x":4.033,"d":0},
  {"c":"NYC","s":"b","x":3.372,"d":0},{"c":"NYC","s":"b","x":3.427,"d":0.3},{"c":"NYC","s":"b","x":3.482,"d":0.65},{"c":"NYC","s":"b","x":3.537,"d":0.85},{"c":"NYC","s":"b","x":3.592,"d":0.8},{"c":"NYC","s":"b","x":3.647,"d":0.75},{"c":"NYC","s":"b","x":3.702,"d":0.9},{"c":"NYC","s":"b","x":3.758,"d":1},{"c":"NYC","s":"b","x":3.802,"d":0.9},{"c":"NYC","s":"b","x":3.84,"d":0.75},{"c":"NYC","s":"b","x":3.879,"d":0.45},{"c":"NYC","s":"b","x":3.934,"d":0.35},{"c":"NYC","s":"b","x":4.006,"d":0.22},{"c":"NYC","s":"b","x":4.088,"d":0.1},{"c":"NYC","s":"b","x":4.198,"d":0.05},{"c":"NYC","s":"b","x":4.364,"d":0.02},{"c":"NYC","s":"b","x":4.694,"d":0},
  {"c":"IST","s":"a","x":2.573,"d":0},{"c":"IST","s":"a","x":2.628,"d":0.2},{"c":"IST","s":"a","x":2.683,"d":0.45},{"c":"IST","s":"a","x":2.738,"d":0.6},{"c":"IST","s":"a","x":2.793,"d":0.8},{"c":"IST","s":"a","x":2.849,"d":0.97},{"c":"IST","s":"a","x":2.876,"d":1},{"c":"IST","s":"a","x":2.915,"d":0.7},{"c":"IST","s":"a","x":2.959,"d":0.4},{"c":"IST","s":"a","x":3.014,"d":0.2},{"c":"IST","s":"a","x":3.096,"d":0.07},{"c":"IST","s":"a","x":3.207,"d":0},
  {"c":"IST","s":"b","x":2.557,"d":0},{"c":"IST","s":"b","x":2.628,"d":0.15},{"c":"IST","s":"b","x":2.7,"d":0.4},{"c":"IST","s":"b","x":2.766,"d":0.55},{"c":"IST","s":"b","x":2.821,"d":0.75},{"c":"IST","s":"b","x":2.876,"d":0.92},{"c":"IST","s":"b","x":2.92,"d":1},{"c":"IST","s":"b","x":2.959,"d":0.9},{"c":"IST","s":"b","x":3.014,"d":0.6},{"c":"IST","s":"b","x":3.069,"d":0.3},{"c":"IST","s":"b","x":3.152,"d":0.12},{"c":"IST","s":"b","x":3.262,"d":0.05},{"c":"IST","s":"b","x":3.427,"d":0.03},{"c":"IST","s":"b","x":3.857,"d":0},
  {"c":"PAR","s":"a","x":2.38,"d":0},{"c":"PAR","s":"a","x":2.573,"d":0.08},{"c":"PAR","s":"a","x":2.612,"d":0.45},{"c":"PAR","s":"a","x":2.667,"d":0.9},{"c":"PAR","s":"a","x":2.711,"d":0.98},{"c":"PAR","s":"a","x":2.766,"d":0.9},{"c":"PAR","s":"a","x":2.821,"d":0.88},{"c":"PAR","s":"a","x":2.876,"d":0.92},{"c":"PAR","s":"a","x":2.931,"d":1},{"c":"PAR","s":"a","x":2.975,"d":0.9},{"c":"PAR","s":"a","x":3.014,"d":0.6},{"c":"PAR","s":"a","x":3.052,"d":0.3},{"c":"PAR","s":"a","x":3.124,"d":0.1},{"c":"PAR","s":"a","x":3.262,"d":0.03},{"c":"PAR","s":"a","x":3.482,"d":0},
  {"c":"PAR","s":"b","x":2.364,"d":0},{"c":"PAR","s":"b","x":2.49,"d":0.03},{"c":"PAR","s":"b","x":2.573,"d":0.1},{"c":"PAR","s":"b","x":2.612,"d":0.5},{"c":"PAR","s":"b","x":2.656,"d":0.85},{"c":"PAR","s":"b","x":2.711,"d":1},{"c":"PAR","s":"b","x":2.766,"d":0.88},{"c":"PAR","s":"b","x":2.821,"d":0.9},{"c":"PAR","s":"b","x":2.887,"d":0.96},{"c":"PAR","s":"b","x":2.942,"d":0.95},{"c":"PAR","s":"b","x":2.986,"d":0.85},{"c":"PAR","s":"b","x":3.03,"d":0.55},{"c":"PAR","s":"b","x":3.069,"d":0.25},{"c":"PAR","s":"b","x":3.152,"d":0.08},{"c":"PAR","s":"b","x":3.372,"d":0.03},{"c":"PAR","s":"b","x":3.73,"d":0},
  {"c":"LON","s":"a","x":2.105,"d":0},{"c":"LON","s":"a","x":2.187,"d":0.1},{"c":"LON","s":"a","x":2.27,"d":0.35},{"c":"LON","s":"a","x":2.353,"d":0.75},{"c":"LON","s":"a","x":2.408,"d":0.95},{"c":"LON","s":"a","x":2.446,"d":1},{"c":"LON","s":"a","x":2.501,"d":0.9},{"c":"LON","s":"a","x":2.573,"d":0.7},{"c":"LON","s":"a","x":2.645,"d":0.5},{"c":"LON","s":"a","x":2.711,"d":0.32},{"c":"LON","s":"a","x":2.766,"d":0.2},{"c":"LON","s":"a","x":2.849,"d":0.15},{"c":"LON","s":"a","x":2.931,"d":0.1},{"c":"LON","s":"a","x":3.041,"d":0.06},{"c":"LON","s":"a","x":3.152,"d":0.03},{"c":"LON","s":"a","x":3.317,"d":0},
  {"c":"LON","s":"b","x":2.077,"d":0},{"c":"LON","s":"b","x":2.16,"d":0.12},{"c":"LON","s":"b","x":2.242,"d":0.35},{"c":"LON","s":"b","x":2.325,"d":0.75},{"c":"LON","s":"b","x":2.391,"d":0.98},{"c":"LON","s":"b","x":2.424,"d":1},{"c":"LON","s":"b","x":2.479,"d":0.88},{"c":"LON","s":"b","x":2.546,"d":0.68},{"c":"LON","s":"b","x":2.628,"d":0.45},{"c":"LON","s":"b","x":2.7,"d":0.25},{"c":"LON","s":"b","x":2.766,"d":0.14},{"c":"LON","s":"b","x":2.849,"d":0.13},{"c":"LON","s":"b","x":2.931,"d":0.1},{"c":"LON","s":"b","x":3.041,"d":0.06},{"c":"LON","s":"b","x":3.207,"d":0.03},{"c":"LON","s":"b","x":3.455,"d":0},
  {"c":"MOW","s":"a","x":3.455,"d":0},{"c":"MOW","s":"a","x":3.565,"d":0.08},{"c":"MOW","s":"a","x":3.647,"d":0.3},{"c":"MOW","s":"a","x":3.73,"d":0.7},{"c":"MOW","s":"a","x":3.796,"d":1},{"c":"MOW","s":"a","x":3.868,"d":0.88},{"c":"MOW","s":"a","x":3.951,"d":0.72},{"c":"MOW","s":"a","x":4.033,"d":0.62},{"c":"MOW","s":"a","x":4.116,"d":0.5},{"c":"MOW","s":"a","x":4.187,"d":0.35},{"c":"MOW","s":"a","x":4.254,"d":0.18},{"c":"MOW","s":"a","x":4.364,"d":0.06},{"c":"MOW","s":"a","x":4.529,"d":0.02},{"c":"MOW","s":"a","x":4.86,"d":0},
  {"c":"MOW","s":"b","x":3.427,"d":0},{"c":"MOW","s":"b","x":3.565,"d":0.1},{"c":"MOW","s":"b","x":3.659,"d":0.35},{"c":"MOW","s":"b","x":3.73,"d":0.72},{"c":"MOW","s":"b","x":3.802,"d":1},{"c":"MOW","s":"b","x":3.868,"d":0.9},{"c":"MOW","s":"b","x":3.951,"d":0.8},{"c":"MOW","s":"b","x":4.061,"d":0.72},{"c":"MOW","s":"b","x":4.143,"d":0.68},{"c":"MOW","s":"b","x":4.209,"d":0.55},{"c":"MOW","s":"b","x":4.281,"d":0.3},{"c":"MOW","s":"b","x":4.364,"d":0.12},{"c":"MOW","s":"b","x":4.529,"d":0.05},{"c":"MOW","s":"b","x":4.86,"d":0}
 ]
},
"spacing": 16,
"hconcat": [
 {"width": 222, "height": 532, "layer": [
  {"data": {"name": "curves"},
   "transform": [{"lookup": "c", "from": {"data": {"name": "cities"}, "key": "c", "fields": ["p", "r"]}}, {"filter": "datum.p == 1"}, {"calculate": "10 - datum.r", "as": "base"}, {"calculate": "datum.base + 0.743 * datum.d", "as": "top"}],
   "mark": {"type": "area", "interpolate": "monotone"},
   "encoding": {
    "x": {"field": "x", "type": "quantitative", "scale": {"domain": [1.345, 5.03], "nice": false, "zero": false}, "axis": {"values": [2, 3, 4, 5], "format": "d", "title": "T2050s − Tpreindustrial (°C)"}},
    "y": {"field": "top", "type": "quantitative", "stack": null, "scale": {"domain": [-0.19, 10.96], "nice": false, "zero": false}, "axis": {"title": null, "values": [10.348, 9.348, 8.348, 7.348, 6.348, 5.348, 4.348, 3.348, 2.348, 1.348, 0.348], "labelExpr": "['FIH','BOG','JKT','LOS','DAR','LAD','SGN','LIM','BLR','MAA','BKK'][round(10.348 - datum.value)]"}},
    "y2": {"field": "base"},
    "detail": {"field": "c"},
    "color": {"field": "s", "type": "nominal", "scale": {"domain": ["GCM", "a", "b"], "range": ["#1f77b4", "rgba(31,119,180,0.7)", "rgba(255,127,14,0.7)"]}, "legend": {"title": null, "labelExpr": "datum.value == 'a' ? 'W/o urbanization' : datum.value == 'b' ? 'W/ urbanization' : 'GCM'"}}
   }},
  {"data": {"name": "cities"},
   "transform": [{"filter": "datum.p == 1"}, {"calculate": "10 - datum.r", "as": "base"}],
   "mark": {"type": "point", "filled": true, "strokeWidth": 0, "opacity": 1},
   "encoding": {
    "x": {"field": "g", "type": "quantitative"},
    "y": {"field": "base", "type": "quantitative"},
    "color": {"datum": "GCM", "type": "nominal"},
    "shape": {"datum": "GCM", "type": "nominal", "scale": {"domain": ["GCM", "a", "b"], "range": ["M0.357,0A0.357,0.357,0,1,1,-0.357,0A0.357,0.357,0,1,1,0.357,0Z", "M-2.286,-0.786H2.286V0.786H-2.286Z", "M-2.286,-0.786H2.286V0.786H-2.286Z"]}, "legend": {"title": null, "labelExpr": "datum.value == 'a' ? 'W/o urbanization' : datum.value == 'b' ? 'W/ urbanization' : 'GCM'"}},
    "size": {"value": 196}
   }},
  {"data": {"name": "cities"},
   "transform": [{"filter": "datum.p == 1"}, {"calculate": "10.348 - datum.r", "as": "lab"}],
   "mark": {"type": "text", "align": "left", "baseline": "middle", "fontSize": 15, "color": "black"},
   "encoding": {"x": {"datum": 1.425, "type": "quantitative"}, "y": {"field": "lab", "type": "quantitative"}, "text": {"field": "k"}}}
 ]},
 {"width": 222, "height": 532, "layer": [
  {"data": {"name": "curves"},
   "transform": [{"lookup": "c", "from": {"data": {"name": "cities"}, "key": "c", "fields": ["p", "r"]}}, {"filter": "datum.p == 2"}, {"calculate": "10 - datum.r", "as": "base"}, {"calculate": "datum.base + 0.743 * datum.d", "as": "top"}],
   "mark": {"type": "area", "interpolate": "monotone"},
   "encoding": {
    "x": {"field": "x", "type": "quantitative", "scale": {"domain": [1.345, 5.03], "nice": false, "zero": false}, "axis": {"values": [2, 3, 4, 5], "format": "d", "title": "T2050s − Tpreindustrial (°C)"}},
    "y": {"field": "top", "type": "quantitative", "stack": null, "scale": {"domain": [-0.19, 10.96], "nice": false, "zero": false}, "axis": {"title": null, "values": [10.348, 9.348, 8.348, 7.348, 6.348, 5.348, 4.348, 3.348, 2.348, 1.348, 0.348], "labelExpr": "['MNL','HYD','BOM','MEX','SZX','CCU','RIO','AMD','CAN','SAO','DAC'][round(10.348 - datum.value)]"}},
    "y2": {"field": "base"},
    "detail": {"field": "c"},
    "color": {"field": "s", "type": "nominal", "scale": {"domain": ["GCM", "a", "b"], "range": ["#1f77b4", "rgba(31,119,180,0.7)", "rgba(255,127,14,0.7)"]}, "legend": {"title": null, "labelExpr": "datum.value == 'a' ? 'W/o urbanization' : datum.value == 'b' ? 'W/ urbanization' : 'GCM'"}}
   }},
  {"data": {"name": "cities"},
   "transform": [{"filter": "datum.p == 2"}, {"calculate": "10 - datum.r", "as": "base"}],
   "mark": {"type": "point", "filled": true, "strokeWidth": 0, "opacity": 1},
   "encoding": {
    "x": {"field": "g", "type": "quantitative"},
    "y": {"field": "base", "type": "quantitative"},
    "color": {"datum": "GCM", "type": "nominal"},
    "shape": {"datum": "GCM", "type": "nominal", "scale": {"domain": ["GCM", "a", "b"], "range": ["M0.357,0A0.357,0.357,0,1,1,-0.357,0A0.357,0.357,0,1,1,0.357,0Z", "M-2.286,-0.786H2.286V0.786H-2.286Z", "M-2.286,-0.786H2.286V0.786H-2.286Z"]}, "legend": {"title": null, "labelExpr": "datum.value == 'a' ? 'W/o urbanization' : datum.value == 'b' ? 'W/ urbanization' : 'GCM'"}},
    "size": {"value": 196}
   }},
  {"data": {"name": "cities"},
   "transform": [{"filter": "datum.p == 2"}, {"calculate": "10.348 - datum.r", "as": "lab"}],
   "mark": {"type": "text", "align": "left", "baseline": "middle", "fontSize": 15, "color": "black"},
   "encoding": {"x": {"datum": 1.425, "type": "quantitative"}, "y": {"field": "lab", "type": "quantitative"}, "text": {"field": "k"}}}
 ]},
 {"width": 222, "height": 532, "layer": [
  {"data": {"name": "curves"},
   "transform": [{"lookup": "c", "from": {"data": {"name": "cities"}, "key": "c", "fields": ["p", "r"]}}, {"filter": "datum.p == 3"}, {"calculate": "10 - datum.r", "as": "base"}, {"calculate": "datum.base + 0.743 * datum.d", "as": "top"}],
   "mark": {"type": "area", "interpolate": "monotone"},
   "encoding": {
    "x": {"field": "x", "type": "quantitative", "scale": {"domain": [1.345, 5.03], "nice": false, "zero": false}, "axis": {"values": [2, 3, 4, 5], "format": "d", "title": "T2050s − Tpreindustrial (°C)"}},
    "y": {"field": "top", "type": "quantitative", "stack": null, "scale": {"domain": [-0.19, 10.96], "nice": false, "zero": false}, "axis": {"title": null, "values": [10.348, 9.348, 8.348, 7.348, 6.348, 5.348, 4.348, 3.348, 2.348, 1.348, 0.348], "labelExpr": "['KHI','DEL','CKG','CAI','CTU','SHA','LHE','NKG','LAX','BUE','OSA'][round(10.348 - datum.value)]"}},
    "y2": {"field": "base"},
    "detail": {"field": "c"},
    "color": {"field": "s", "type": "nominal", "scale": {"domain": ["GCM", "a", "b"], "range": ["#1f77b4", "rgba(31,119,180,0.7)", "rgba(255,127,14,0.7)"]}, "legend": {"title": null, "labelExpr": "datum.value == 'a' ? 'W/o urbanization' : datum.value == 'b' ? 'W/ urbanization' : 'GCM'"}}
   }},
  {"data": {"name": "cities"},
   "transform": [{"filter": "datum.p == 3"}, {"calculate": "10 - datum.r", "as": "base"}],
   "mark": {"type": "point", "filled": true, "strokeWidth": 0, "opacity": 1},
   "encoding": {
    "x": {"field": "g", "type": "quantitative"},
    "y": {"field": "base", "type": "quantitative"},
    "color": {"datum": "GCM", "type": "nominal"},
    "shape": {"datum": "GCM", "type": "nominal", "scale": {"domain": ["GCM", "a", "b"], "range": ["M0.357,0A0.357,0.357,0,1,1,-0.357,0A0.357,0.357,0,1,1,0.357,0Z", "M-2.286,-0.786H2.286V0.786H-2.286Z", "M-2.286,-0.786H2.286V0.786H-2.286Z"]}, "legend": {"title": null, "labelExpr": "datum.value == 'a' ? 'W/o urbanization' : datum.value == 'b' ? 'W/ urbanization' : 'GCM'"}},
    "size": {"value": 196}
   }},
  {"data": {"name": "cities"},
   "transform": [{"filter": "datum.p == 3"}, {"calculate": "10.348 - datum.r", "as": "lab"}],
   "mark": {"type": "text", "align": "left", "baseline": "middle", "fontSize": 15, "color": "black"},
   "encoding": {"x": {"datum": 1.425, "type": "quantitative"}, "y": {"field": "lab", "type": "quantitative"}, "text": {"field": "k"}}}
 ]},
 {"width": 222, "height": 532, "layer": [
  {"data": {"name": "curves"},
   "transform": [{"lookup": "c", "from": {"data": {"name": "cities"}, "key": "c", "fields": ["p", "r"]}}, {"filter": "datum.p == 4"}, {"calculate": "10 - datum.r", "as": "base"}, {"calculate": "datum.base + 0.743 * datum.d", "as": "top"}],
   "mark": {"type": "area", "interpolate": "monotone"},
   "encoding": {
    "x": {"field": "x", "type": "quantitative", "scale": {"domain": [1.345, 5.03], "nice": false, "zero": false}, "axis": {"values": [2, 3, 4, 5], "format": "d", "title": "T2050s − Tpreindustrial (°C)"}},
    "y": {"field": "top", "type": "quantitative", "stack": null, "scale": {"domain": [-0.19, 10.96], "nice": false, "zero": false}, "axis": {"title": null, "values": [10.348, 9.348, 8.348, 7.348, 6.348, 5.348, 4.348, 3.348, 2.348, 1.348], "labelExpr": "['TYO','THR','SEL','TSN','PEK','NYC','IST','PAR','LON','MOW'][round(10.348 - datum.value)]"}},
    "y2": {"field": "base"},
    "detail": {"field": "c"},
    "color": {"field": "s", "type": "nominal", "scale": {"domain": ["GCM", "a", "b"], "range": ["#1f77b4", "rgba(31,119,180,0.7)", "rgba(255,127,14,0.7)"]}, "legend": {"title": null, "labelExpr": "datum.value == 'a' ? 'W/o urbanization' : datum.value == 'b' ? 'W/ urbanization' : 'GCM'"}}
   }},
  {"data": {"name": "cities"},
   "transform": [{"filter": "datum.p == 4"}, {"calculate": "10 - datum.r", "as": "base"}],
   "mark": {"type": "point", "filled": true, "strokeWidth": 0, "opacity": 1},
   "encoding": {
    "x": {"field": "g", "type": "quantitative"},
    "y": {"field": "base", "type": "quantitative"},
    "color": {"datum": "GCM", "type": "nominal"},
    "shape": {"datum": "GCM", "type": "nominal", "scale": {"domain": ["GCM", "a", "b"], "range": ["M0.357,0A0.357,0.357,0,1,1,-0.357,0A0.357,0.357,0,1,1,0.357,0Z", "M-2.286,-0.786H2.286V0.786H-2.286Z", "M-2.286,-0.786H2.286V0.786H-2.286Z"]}, "legend": {"title": null, "labelExpr": "datum.value == 'a' ? 'W/o urbanization' : datum.value == 'b' ? 'W/ urbanization' : 'GCM'"}},
    "size": {"value": 196}
   }},
  {"data": {"name": "cities"},
   "transform": [{"filter": "datum.p == 4"}, {"calculate": "10.348 - datum.r", "as": "lab"}],
   "mark": {"type": "text", "align": "left", "baseline": "middle", "fontSize": 15, "color": "black"},
   "encoding": {"x": {"datum": 1.425, "type": "quantitative"}, "y": {"field": "lab", "type": "quantitative"}, "text": {"field": "k"}}}
 ]}
]
}
